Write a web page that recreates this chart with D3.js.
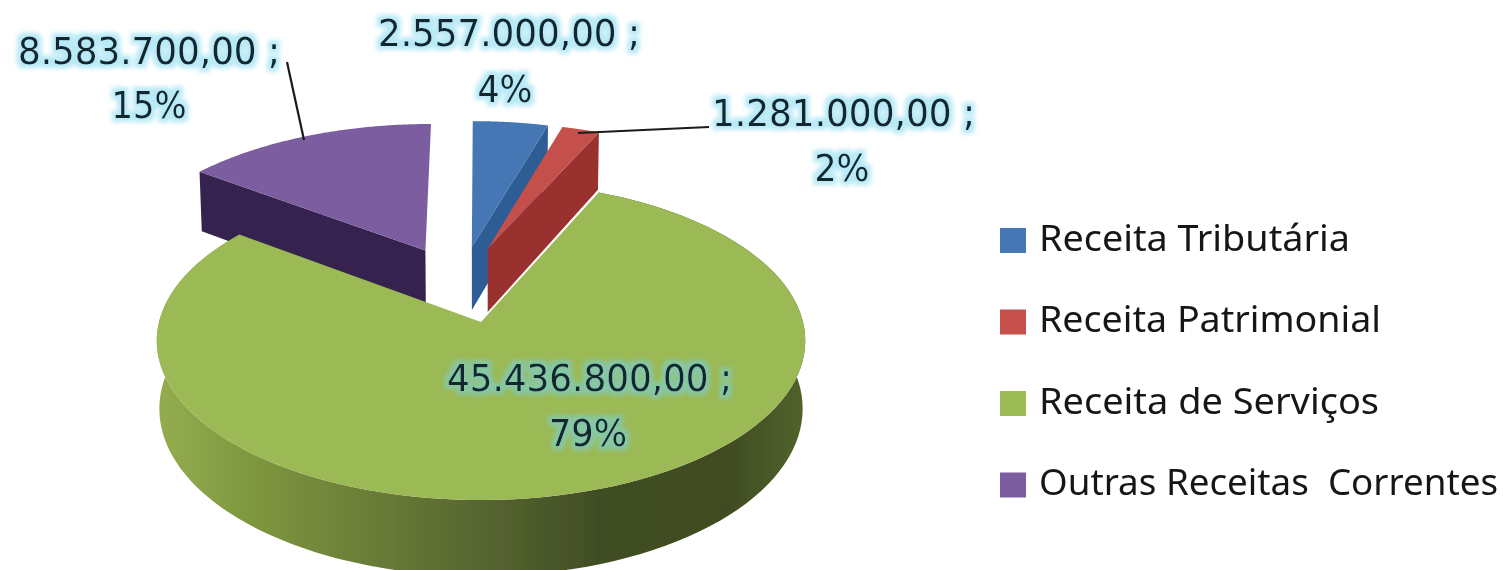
<!DOCTYPE html>
<html><head><meta charset="utf-8">
<script src="https://cdn.jsdelivr.net/npm/d3@7"></script>
<style>html,body{margin:0;padding:0;background:#fff}svg{display:block}text{white-space:pre;font-family:"DejaVu Sans",sans-serif}</style>
</head><body><svg id="c" width="1507" height="570"></svg>
<script>
const categories = ["Receita Tributária","Receita Patrimonial","Receita de Serviços","Outras Receitas  Correntes"];
const values = [2557000,1281000,45436800,8583700];
const topColors = ["#4477b4","#c5504c","#9bb955","#7c5d9f"];
const wallColors = ["#2f5c94","#99302f","#6a7c36","#35244f"];

const W=1507,H=570;
const svg=d3.select("#c");
const defs=svg.append("defs");
const grad=defs.append("linearGradient").attr("id","gw").attr("gradientUnits","userSpaceOnUse")
  .attr("x1",157).attr("x2",805).attr("y1",0).attr("y2",0);
[[0,"#93ad4f"],[0.14,"#7f983f"],[0.3,"#6d8138"],[0.5,"#566630"],[0.68,"#414e24"],[0.88,"#3f4c22"],[1,"#52632c"]]
  .forEach(s=>grad.append("stop").attr("offset",s[0]).attr("stop-color",s[1]));
const soft=defs.append("filter").attr("id","soft");
soft.append("feGaussianBlur").attr("stdDeviation",0.7);
const halo=defs.append("filter").attr("id","halo").attr("x","-10%").attr("y","-30%").attr("width","120%").attr("height","160%");
halo.append("feMorphology").attr("in","SourceAlpha").attr("operator","dilate").attr("radius",4).attr("result","d");
halo.append("feGaussianBlur").attr("in","d").attr("stdDeviation",2).attr("result","b");
halo.append("feFlood").attr("flood-color","#74d4ee").attr("flood-opacity",0.5).attr("result","f");
halo.append("feComposite").attr("in","f").attr("in2","b").attr("operator","in").attr("result","g");
halo.append("feGaussianBlur").attr("in","SourceGraphic").attr("stdDeviation",0.55).attr("result","t");
const hm=halo.append("feMerge");hm.append("feMergeNode").attr("in","g");hm.append("feMergeNode").attr("in","t");

// pie geometry from the data
const pie=d3.pie().sort(null)(values);
const total=d3.sum(values);
const EXPLODE=0.259,B=0.118,CX=481,Y0=322,SX=322,SY=157,DEPTH=67;
const mid=d=>(d.startAngle+d.endAngle)/2;
const g=pie[2];
const ou=-EXPLODE*Math.sin(mid(g)), ov=EXPLODE*Math.cos(mid(g));
function project(d,r,a,low){
  const u=ou+EXPLODE*Math.sin(mid(d))+r*Math.sin(a);
  const v=ov-EXPLODE*Math.cos(mid(d))-r*Math.cos(a);
  const den=1-B*v;
  const k=low?0.992:1;
  return [CX+k*SX*u/den, Y0+SY*v/den+(low?DEPTH/den:0)];
}
const line=d3.line().curve(d3.curveLinear);
const arcPts=(d,low)=>d3.range(0,121).map(i=>project(d,1,d.startAngle+(d.endAngle-d.startAngle)*i/120,low));

const marks=svg.append("g").attr("filter","url(#soft)");
function wallRadial(d,i,a){
  marks.append("path").attr("fill",wallColors[i]).attr("d",line([
    project(d,1,a,false),project(d,0,a,false),project(d,0,a,true),project(d,1,a,true)])+"Z");
}
function topFace(d,i){
  marks.append("path").attr("fill",topColors[i])
    .attr("d",line([project(d,0,0,false),...arcPts(d,false)])+"Z");
}
// painter's order: back slices first
wallRadial(pie[3],3,pie[3].startAngle); topFace(pie[3],3);
wallRadial(pie[0],0,pie[0].endAngle);   topFace(pie[0],0);
wallRadial(pie[1],1,pie[1].endAngle);   topFace(pie[1],1);
marks.append("path").attr("fill","url(#gw)")
  .attr("d",line([...arcPts(g,false),...arcPts(g,true).reverse()])+"Z");
topFace(g,2);

// leader lines
const leaders=[[[287,62],[304,140]],[[709,127],[578,133]]];
marks.selectAll("line.l").data(leaders).join("line").attr("class","l")
  .attr("x1",d=>d[0][0]).attr("y1",d=>d[0][1]).attr("x2",d=>d[1][0]).attr("y2",d=>d[1][1])
  .attr("stroke","#1a1a1a").attr("stroke-width",2.2);

// data labels
const loc=d3.formatLocale({decimal:",",thousands:".",grouping:[3],currency:["R$",""]});
const money=loc.format(",.2f"), pct=d3.format(".0%");
const labelPos=[
  {x:378,y:46,w:262,px:505,py:102,pw:55},
  {x:712,y:126,w:263,px:842,py:181,pw:55},
  {x:447,y:391,w:285,px:588,py:446,pw:78},
  {x:18,y:64,w:262,px:149,py:118,pw:75}];
const lab=svg.append("g").attr("fill","#13262e").attr("font-size",37);
pie.forEach((d,i)=>{
  const p=labelPos[i];
  lab.append("text").attr("x",p.x).attr("y",p.y).attr("filter","url(#halo)")
    .attr("textLength",p.w).attr("lengthAdjust","spacingAndGlyphs")
    .text(money(d.value)+" ;");
  lab.append("text").attr("x",p.px).attr("y",p.py).attr("text-anchor","middle").attr("filter","url(#halo)")
    .attr("textLength",p.pw).attr("lengthAdjust","spacingAndGlyphs")
    .text(pct(d.value/total));
});

// legend
const legY=d3.scalePoint().domain(categories).range([240.5,485]);
const legW=[311,342,340,459];
const leg=svg.append("g").selectAll("g").data(categories).join("g")
  .attr("transform",d=>`translate(1000,${legY(d)})`);
leg.append("rect").attr("y",-12.5).attr("width",26).attr("height",25)
  .attr("fill",(d,i)=>topColors[i]).attr("filter","url(#soft)");
leg.append("text").attr("x",39).attr("y",10).attr("font-size",37).attr("fill","#161616")
  .style("font-family","'Noto Sans',sans-serif")
  .attr("textLength",(d,i)=>legW[i]).attr("lengthAdjust","spacingAndGlyphs")
  .attr("filter","url(#soft)").text(d=>d);
</script></body></html>
